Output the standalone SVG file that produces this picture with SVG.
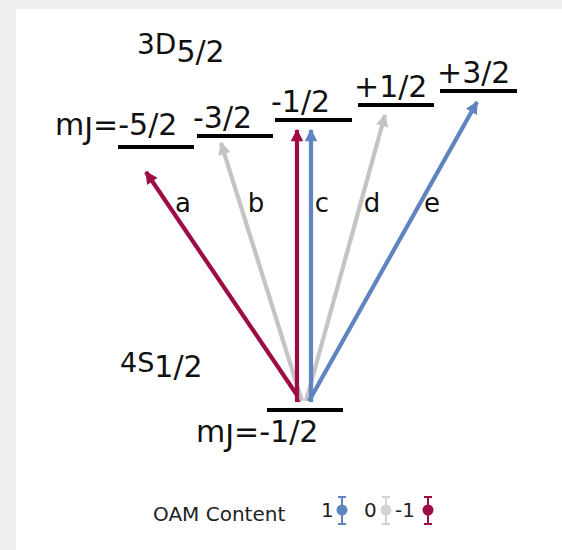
<svg xmlns="http://www.w3.org/2000/svg" width="562" height="550" viewBox="0 0 562 550">
<defs>
<style>
.t{font-family:"DejaVu Sans",sans-serif;fill:#111}
.lvl{font-size:30px}
.lab{font-size:26px;text-anchor:middle}
.lg{font-size:20px;fill:#222}
.lv{stroke:#000;stroke-width:4}
.ar{stroke-width:4.2;fill:none}
.r{stroke:#9e0c45}.g{stroke:#c4c4c4}.b{stroke:#5f84bf}
</style>
<marker id="mr" viewBox="0 0 10 10" refX="9" refY="5" markerWidth="3.1" markerHeight="3" orient="auto" markerUnits="strokeWidth"><path d="M0,0L10,5L0,10z" fill="#9e0c45"/></marker>
<marker id="mg" viewBox="0 0 10 10" refX="9" refY="5" markerWidth="3.1" markerHeight="3" orient="auto" markerUnits="strokeWidth"><path d="M0,0L10,5L0,10z" fill="#c4c4c4"/></marker>
<marker id="mb" viewBox="0 0 10 10" refX="9" refY="5" markerWidth="3.1" markerHeight="3" orient="auto" markerUnits="strokeWidth"><path d="M0,0L10,5L0,10z" fill="#5f84bf"/></marker>
</defs>
<rect width="562" height="550" fill="#eeeeee"/>
<rect x="16" y="9" width="546" height="541" fill="#fff"/>
<g id="connectors">
<line class="ar r" x1="301" y1="401" x2="146" y2="172" marker-end="url(#mr)"/>
<line class="ar g" x1="302" y1="401" x2="221" y2="143" marker-end="url(#mg)"/>
<line class="ar r" x1="297" y1="402" x2="297" y2="130" marker-end="url(#mr)"/>
<line class="ar g" x1="306" y1="401" x2="385" y2="115" marker-end="url(#mg)"/>
<line class="ar b" x1="311" y1="402" x2="311" y2="130" marker-end="url(#mb)"/>
<line class="ar b" x1="309" y1="401" x2="477" y2="102" marker-end="url(#mb)"/>
</g>
<g id="upper-state"><text class="t" x="137" y="54" font-size="28">3D<tspan dy="8" font-size="30">5/2</tspan></text></g>
<g id="level-m5"><line class="lv" x1="118" y1="147" x2="194" y2="147"/><text class="t lvl" x="55" y="135">m<tspan dy="4">J</tspan><tspan dy="-4">=-5/2</tspan></text></g>
<g id="level-m3"><line class="lv" x1="197" y1="136" x2="273" y2="136"/><text class="t lvl" x="193" y="128">-3/2</text></g>
<g id="level-m1"><line class="lv" x1="275" y1="120" x2="352" y2="120"/><text class="t lvl" x="271" y="112">-1/2</text></g>
<g id="level-p1"><line class="lv" x1="358" y1="105" x2="434" y2="105"/><text class="t lvl" x="354" y="97">+1/2</text></g>
<g id="level-p3"><line class="lv" x1="440" y1="91" x2="517" y2="91"/><text class="t lvl" x="437" y="83">+3/2</text></g>
<g id="lower-state"><text class="t" x="120" y="372" font-size="27">4S<tspan dy="5" font-size="30">1/2</tspan></text></g>
<g id="ground"><line class="lv" x1="267" y1="410" x2="343" y2="410"/><text class="t lvl" x="196" y="442">m<tspan dy="4">J</tspan><tspan dy="-4">=-1/2</tspan></text></g>
<g id="labels">
<text class="t lab" x="183" y="212">a</text>
<text class="t lab" x="256" y="212">b</text>
<text class="t lab" x="322" y="212">c</text>
<text class="t lab" x="372" y="212">d</text>
<text class="t lab" x="432" y="212">e</text>
</g>
<g id="legend">
<text class="t lg" x="153" y="521">OAM Content</text>
<text class="t lg" x="321" y="517">1</text>
<text class="t lg" x="364" y="517">0</text>
<text class="t lg" x="395" y="517">-1</text>
<g stroke-width="2"><path d="M342,497V524M338,497H346M338,524H346" stroke="#5f84bf"/><circle cx="342" cy="510" r="5.5" fill="#5f84bf"/>
<path d="M386,497V524M382,497H390M382,524H390" stroke="#d4d4d4"/><circle cx="386" cy="510" r="5.5" fill="#d4d4d4"/>
<path d="M428,497V524M424,497H432M424,524H432" stroke="#9e0c45"/><circle cx="428" cy="510" r="5.5" fill="#9e0c45"/></g>
</g>
</svg>
